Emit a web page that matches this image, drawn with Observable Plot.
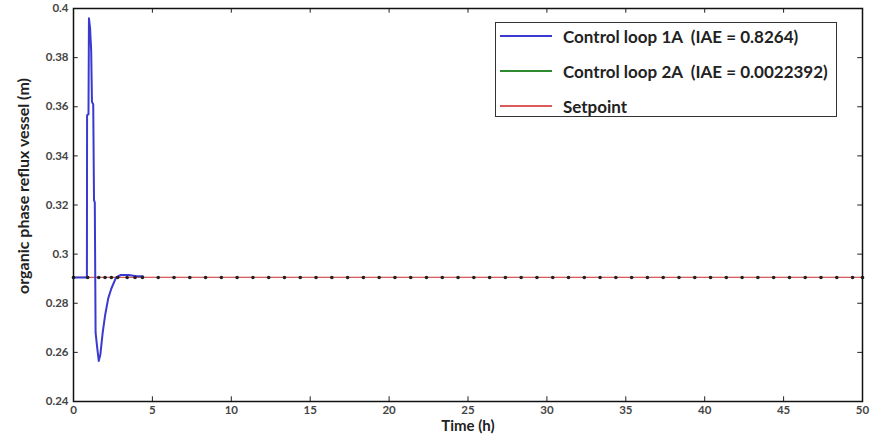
<!DOCTYPE html>
<html><head><meta charset="utf-8">
<script src="https://cdn.jsdelivr.net/npm/d3@7"></script>
<script src="https://cdn.jsdelivr.net/npm/@observablehq/plot@0.6"></script>
<style>
body{margin:0;background:#fff;}
#wrap{position:relative;width:883px;height:438px;}
#legend{position:absolute;left:495px;top:22px;width:342px;height:95px;border:1.5px solid #333;background:#fff;font-family:Lato,sans-serif;font-weight:bold;font-size:17px;color:#222;box-sizing:border-box;}
.row{position:absolute;left:0;height:20px;display:flex;align-items:center;white-space:pre;}
.sw{width:52px;height:2px;margin-left:4px;margin-right:11px;}
#ylab{position:absolute;left:22px;top:186px;transform:translate(-50%,-50%) rotate(-90deg);white-space:nowrap;font-family:Lato,sans-serif;font-weight:bold;font-size:16px;color:#222;}
</style>
</head><body>
<div id="wrap"><div id="chart"></div>
<div id="legend"></div>
<div id="ylab"></div></div>
<script>
// Time axis ticks and y ticks
const xTicks = [0,5,10,15,20,25,30,35,40,45,50];
const yTicks = [0.24,0.26,0.28,0.3,0.32,0.34,0.36,0.38,0.4];
const xLabel = "Time (h)";
const yLabel = "organic phase reflux vessel (m)";

// Control loop 1A (time h, level m)
const loop1Time = [0,0.85,0.86,0.95,0.98,1.05,1.12,1.17,1.25,1.30,1.35,1.40,1.50,1.60,1.70,1.85,2.0,2.2,2.4,2.7,3.0,3.5,4.0,4.4];
const loop1Val  = [0.2905,0.2905,0.3565,0.357,0.396,0.392,0.383,0.362,0.361,0.322,0.321,0.268,0.262,0.2565,0.259,0.268,0.275,0.282,0.286,0.2905,0.2915,0.2915,0.291,0.291];

// Control loop 2A
const loop2Time = [0,0.9,1.6,2.0,2.4,2.8,3.4,3.9,4.37,5.37,6.37,7.37,8.37,9.37,10.37,11.37,12.37,13.37,14.37,15.37,16.37,17.37,18.37,19.37,20.37,21.37,22.37,23.37,24.37,25.37,26.37,27.37,28.37,29.37,30.37,31.37,32.37,33.37,34.37,35.37,36.37,37.37,38.37,39.37,40.37,41.37,42.37,43.37,44.37,45.37,46.37,47.37,48.37,49.37,50];
const loop2Val  = loop2Time.map(() => 0.2905);

// Setpoint
const setTime = [0,50];
const setVal = [0.2905,0.2905];

const seriesNames = ["Control loop 1A  (IAE = 0.8264)","Control loop 2A  (IAE = 0.0022392)","Setpoint"];
const seriesColors = ["#3a3ad0","#2e8a2e","#dd5a5a"];

const loop1 = loop1Time.map((t,i)=>({t, v:loop1Val[i]}));
const loop2 = loop2Time.map((t,i)=>({t, v:loop2Val[i]}));
const setp = setTime.map((t,i)=>({t, v:setVal[i]}));

const xd = [0,50], yd = [0.24,0.4];
const tx = (xd[1]-xd[0])*0.006, ty = (yd[1]-yd[0])*0.012;

const chart = Plot.plot({
  width: 883, height: 438,
  marginLeft: 73, marginRight: 21, marginTop: 8, marginBottom: 37,
  x: {domain: xd, label: null},
  y: {domain: yd, label: null},
  style: {fontFamily: "Lato, sans-serif", fontSize: "11.5px", color: "#333", background: "#fff"},
  marks: [
    Plot.line(loop2, {x:"t", y:"v", stroke: seriesColors[1], strokeWidth: 1}),
    Plot.line(setp, {x:"t", y:"v", stroke: seriesColors[2], strokeWidth: 1.3}),
    Plot.line(loop1, {x:"t", y:"v", stroke: seriesColors[0], strokeWidth: 2, curve: "linear"}),
    Plot.dot(loop2, {x:"t", y:"v", r: 1.8, fill: "#222", stroke: null}),
    Plot.ruleX(xTicks, {x: d=>d, y1: yd[0], y2: yd[0]+ty, stroke:"#222"}),
    Plot.ruleX(xTicks, {x: d=>d, y1: yd[1]-ty, y2: yd[1], stroke:"#222"}),
    Plot.ruleY(yTicks, {y: d=>d, x1: xd[0], x2: xd[0]+tx, stroke:"#222"}),
    Plot.ruleY(yTicks, {y: d=>d, x1: xd[1]-tx, x2: xd[1], stroke:"#222"}),
    Plot.axisX(xTicks, {tickSize: 0, tickPadding: 4, fontWeight: "bold", fill: "#444", tickFormat: d => String(d)}),
    Plot.axisY(yTicks, {tickSize: 0, tickPadding: 5, fontWeight: "bold", fill: "#444", tickFormat: d => String(d)}),
    Plot.frame({stroke: "#111", strokeWidth: 1.5}),
    Plot.text([xLabel], {frameAnchor: "bottom", dy: 29, fontSize: 15, fontWeight: "bold", fill: "#222"})
  ]
});
document.getElementById("chart").append(chart);
document.getElementById("ylab").textContent = yLabel;

const leg = document.getElementById("legend");
seriesNames.forEach((n,i)=>{
  const r = document.createElement("div");
  r.className = "row";
  r.style.top = (3 + i*35) + "px";
  const s = document.createElement("div");
  s.className = "sw"; s.style.background = seriesColors[i];
  const t = document.createElement("span"); t.textContent = n;
  r.append(s,t); leg.append(r);
});
</script>
</body></html>
